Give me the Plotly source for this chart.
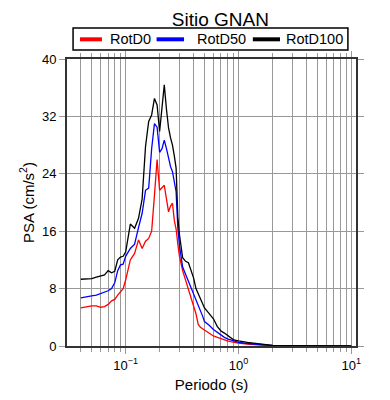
import plotly.graph_objects as go

periods = [0.04, 0.045, 0.05, 0.055, 0.06, 0.065, 0.07, 0.075, 0.08, 0.085, 0.09, 0.095,
           0.1, 0.11, 0.12, 0.13, 0.14, 0.15, 0.16, 0.17, 0.18, 0.19, 0.2, 0.21, 0.22,
           0.23, 0.24, 0.25, 0.26, 0.27, 0.28, 0.29, 0.3, 0.32, 0.34, 0.36, 0.38, 0.4,
           0.42, 0.44, 0.46, 0.48, 0.5, 0.55, 0.6, 0.65, 0.7, 0.75, 0.8, 0.85, 0.9, 0.95,
           1.0, 1.2, 1.4, 1.6, 1.8, 2.0, 2.5, 3.0, 4.0, 5.0, 6.0, 7.0, 8.0, 9.0, 10.0]

rotd0 = [5.3, 5.5, 5.6, 5.6, 5.4, 5.5, 5.8, 6.3, 6.5, 7.1, 7.5, 8.0,
         9.2, 12.0, 12.9, 14.8, 13.6, 14.6, 15.0, 16.0, 21.0, 26.0, 21.7, 22.0, 22.4,
         20.5, 18.7, 19.5, 19.9, 17.5, 16.3, 14.2, 12.5, 10.5, 9.2, 8.0, 6.5, 5.5,
         4.5, 3.0, 2.6, 2.4, 2.2, 1.7, 1.4, 1.2, 1.0, 0.85, 0.7, 0.6, 0.5, 0.45,
         0.4, 0.25, 0.15, 0.1, 0.07, 0.05, 0.03, 0.02, 0.01, 0.01, 0.01, 0.01, 0.01, 0.01, 0.01]

rotd50 = [6.7, 6.9, 7.0, 7.1, 7.3, 7.5, 7.7, 8.0, 8.8, 10.5, 11.3, 11.4,
          12.5, 13.6, 14.2, 16.5, 18.5, 21.7, 22.0, 27.5, 31.0, 30.5, 27.0, 27.5, 28.7,
          27.5, 26.0, 25.0, 24.3, 23.0, 21.5, 16.5, 14.0, 11.0, 10.0, 9.0, 8.0, 7.3,
          6.3, 5.8, 5.0, 4.2, 3.4, 2.9, 2.3, 1.9, 1.5, 1.2, 1.0, 0.85, 0.7, 0.6,
          0.5, 0.35, 0.25, 0.15, 0.1, 0.07, 0.05, 0.03, 0.02, 0.01, 0.01, 0.01, 0.01, 0.01, 0.01]

rotd100 = [9.3, 9.35, 9.4, 9.6, 9.8, 9.9, 10.5, 10.2, 10.4, 12.0, 12.4, 12.5,
           13.1, 17.0, 16.4, 17.8, 20.5, 27.8, 31.3, 32.2, 34.5, 33.6, 29.9, 33.0, 36.4,
           33.0, 30.4, 29.0, 28.0, 26.5, 24.8, 18.0, 15.5, 12.3, 11.8, 11.6, 10.5, 9.5,
           8.0, 7.3, 6.5, 6.0, 5.3, 4.5, 3.8, 2.7, 2.1, 1.8, 1.5, 1.2, 0.9, 0.8,
           0.7, 0.5, 0.37, 0.25, 0.15, 0.1, 0.06, 0.04, 0.02, 0.01, 0.01, 0.01, 0.01, 0.01, 0.01]

series_names = ["RotD0", "RotD50", "RotD100"]
series_values = [rotd0, rotd50, rotd100]
series_colors = ["#ff0000", "#0000ff", "#000000"]

y_ticks = [0, 8, 16, 24, 32, 40]
x_ticks = [0.1, 1, 10]
x_ticktext = ["10<sup>\u22121</sup>", "10<sup>0</sup>", "10<sup>1</sup>"]
x_minor = [m * d for d in (0.01, 0.1, 1.0) for m in range(2, 10)]

fig = go.Figure()
for name, vals, color in zip(series_names, series_values, series_colors):
    fig.add_trace(go.Scatter(x=periods, y=vals, mode="lines", name=name,
                             line=dict(color=color, width=1.3), showlegend=False))

font_family = "Liberation Sans, Arial, sans-serif"
grid_col = "#999999"
frame_col = "#333333"

# Custom legend box (paper coordinates relative to the plot area)
leg_x0, leg_x1, leg_y0, leg_y1 = 0.021, 0.972, 1.031, 1.108
leg_yc = 1.0686
leg_line_x = [(0.045, 0.121), (0.310, 0.405), (0.643, 0.737)]
leg_text_x = [0.141, 0.443, 0.751]

shapes = [dict(type="rect", xref="paper", yref="paper", x0=leg_x0, x1=leg_x1,
               y0=leg_y0, y1=leg_y1, line=dict(color="black", width=1.5),
               fillcolor="white", layer="above")]
annotations = []
for (lx0, lx1), tx, name, color in zip(leg_line_x, leg_text_x, series_names, series_colors):
    shapes.append(dict(type="line", xref="paper", yref="paper", x0=lx0, x1=lx1,
                       y0=leg_yc, y1=leg_yc, line=dict(color=color, width=4)))
    annotations.append(dict(text=name, xref="paper", yref="paper", x=tx, y=leg_yc,
                            xanchor="left", yanchor="middle", showarrow=False,
                            font=dict(size=14.5, color="black")))

fig.update_layout(
    width=390, height=400,
    margin=dict(l=59, r=42, t=51, b=62, autoexpand=False),
    paper_bgcolor="white", plot_bgcolor="white",
    font=dict(family=font_family, size=13, color="black"),
    title=dict(text="Sitio GNAN", x=0.5444, xanchor="center", y=0.971, yanchor="middle",
               font=dict(size=19, color="black")),
    shapes=shapes,
    annotations=annotations,
    showlegend=False,
)

fig.update_xaxes(
    type="log", range=[-1.52, 1.042],
    tickvals=x_ticks, ticktext=x_ticktext,
    ticks="outside", ticklen=6, tickcolor=grid_col,
    showgrid=True, gridcolor=grid_col, gridwidth=1,
    minor=dict(tickvals=x_minor, ticks="outside", ticklen=4, tickcolor=grid_col,
               showgrid=True, gridcolor=grid_col, gridwidth=1),
    showline=True, linecolor=frame_col, linewidth=2, mirror="ticks",
    title=dict(text="Periodo (s)", font=dict(size=15), standoff=8),
    tickfont=dict(size=13),
    zeroline=False,
)
fig.update_yaxes(
    range=[0, 40], tickvals=y_ticks,
    ticks="outside", ticklen=6, tickcolor=grid_col,
    showgrid=True, gridcolor=grid_col, gridwidth=1,
    showline=True, linecolor=frame_col, linewidth=2, mirror="ticks",
    title=dict(text="PSA (cm/s<sup>2</sup>)", font=dict(size=15), standoff=4),
    tickfont=dict(size=13),
    zeroline=False,
)

fig.write_html("out.html")
